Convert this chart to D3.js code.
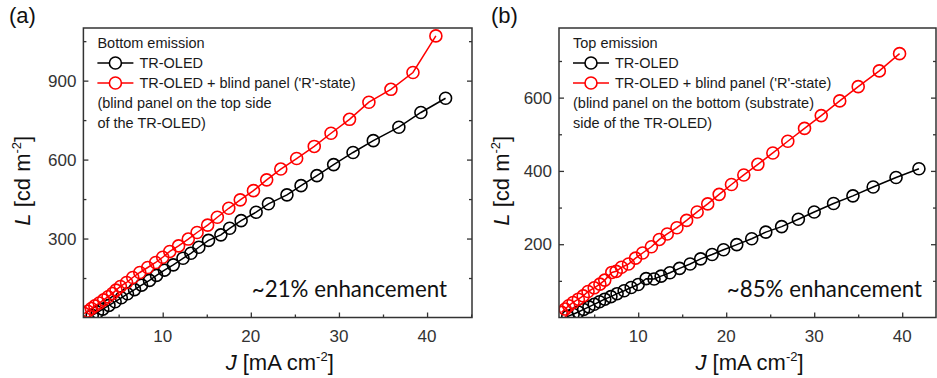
<!DOCTYPE html>
<html>
<head>
<meta charset="utf-8">
<script src="https://cdn.jsdelivr.net/npm/d3@7"></script>
<style>
  body { margin: 0; background: #fff; }
  svg { display: block; }
</style>
</head>
<body>
<div id="chart"></div>
<script>
"use strict";

// panel (a) bottom emission, [J, L]
const bottomRef = [
    [2.0, 8], [2.6, 20], [3.2, 32], [3.9, 46], [4.6, 60], [5.3, 75], [6.0, 90], [6.8, 106],
    [7.6, 123], [8.5, 141], [9.3, 160], [10.2, 180], [11.2, 200], [12.3, 225], [13.2, 244],
    [14.1, 267], [15.2, 293], [16.6, 314], [17.6, 339], [18.9, 368], [20.6, 400], [22.0, 432],
    [24.1, 466], [25.7, 501], [27.5, 539], [29.4, 581], [31.6, 627], [33.9, 672], [36.8, 723],
    [39.3, 779], [42.1, 833]
];
const bottomBlind = [
    [1.1, 15], [1.5, 24], [1.9, 34], [2.3, 44], [2.8, 55], [3.3, 67], [3.8, 79], [4.3, 91],
    [4.7, 104], [5.2, 118], [5.9, 133], [6.6, 152], [7.4, 171], [8.3, 190], [9.2, 209],
    [10.0, 229], [10.8, 251], [11.8, 272], [12.9, 298], [13.9, 323], [15.1, 351], [16.2, 381],
    [17.5, 415], [18.8, 447], [20.3, 482], [21.8, 523], [23.4, 564], [25.2, 604], [27.2, 650],
    [29.1, 700], [31.2, 753], [33.4, 818], [35.9, 867], [38.4, 931], [41.0, 1070]
];

// panel (b) top emission
const topRef = [
    [2.0, 3], [2.6, 9], [3.2, 15], [3.8, 22], [4.4, 29], [5.0, 36], [5.6, 43], [6.2, 50],
    [6.9, 57], [7.6, 65], [8.4, 73], [9.2, 82], [10.0, 90], [10.9, 106], [11.8, 105],
    [12.6, 113], [13.6, 122], [14.7, 134], [15.9, 146], [17.1, 160], [18.4, 172], [19.7, 185],
    [21.2, 199], [22.9, 215], [24.5, 233], [26.3, 248], [28.2, 268], [30.0, 288], [32.2, 311],
    [34.4, 332], [36.7, 356], [39.3, 382], [41.9, 406]
];
const topBlind = [
    [1.3, 14], [1.7, 23], [2.1, 32], [2.6, 41], [3.2, 50], [3.75, 59], [4.3, 71], [5.0, 81],
    [5.65, 91], [6.2, 102], [7.0, 123], [7.5, 126], [8.1, 137], [8.9, 146], [9.7, 162],
    [10.5, 176], [11.5, 193], [12.4, 213], [13.3, 228], [14.4, 245], [15.5, 265], [16.7, 288],
    [17.9, 310], [19.2, 336], [20.6, 363], [22.0, 389], [23.6, 418], [25.3, 449], [27.0, 481],
    [28.9, 516], [30.8, 551], [32.9, 591], [35.0, 630], [37.4, 673], [39.7, 720]
];

const xTicks = [10, 20, 30, 40];
const xMinor = [5, 15, 25, 35, 45];
const yTicksA = [300, 600, 900];
const yMinorA = [150, 450, 750, 1050];
const yTicksB = [200, 400, 600];
const yMinorB = [100, 300, 500, 700];

const legendA = ["Bottom emission", "TR-OLED", "TR-OLED + blind panel ('R'-state)",
    "(blind panel on the top side", "of the TR-OLED)"];
const legendB = ["Top emission", "TR-OLED", "TR-OLED + blind panel ('R'-state)",
    "(blind panel on the bottom (substrate)", "side of the TR-OLED)"];

const W = 937, H = 378;
const axisColor = "#333";

const svg = d3.select("#chart").append("svg")
    .attr("width", W)
    .attr("height", H)
    .attr("font-family", "Arial, 'Liberation Sans', sans-serif");

drawPanel({
    left: 83.4, right: 472, top: 28, bottom: 317.5,
    xDomain: [1, 45.1], yDomain: [0, 1100],
    yTicks: yTicksA, yMinor: yMinorA,
    ref: bottomRef, blind: bottomBlind,
    legend: legendA, letter: "(a)", letterX: 9,
    note: "~21% enhancement", noteX: 447,
    yLabelX: 30
});

drawPanel({
    left: 559, right: 936, top: 28, bottom: 317.5,
    xDomain: [1, 43.84], yDomain: [0, 790],
    yTicks: yTicksB, yMinor: yMinorB,
    ref: topRef, blind: topBlind,
    legend: legendB, letter: "(b)", letterX: 491,
    note: "~85% enhancement", noteX: 922,
    yLabelX: 509
});

function drawPanel(p) {
    let g = svg.append("g");

    let xScale = d3.scaleLinear().domain(p.xDomain).range([p.left, p.right]);
    let yScale = d3.scaleLinear().domain(p.yDomain).range([p.bottom, p.top]);

    // ticks (inward) bottom, left and right
    let xAxis = d3.axisTop(xScale).tickValues(xTicks).tickSize(5).tickFormat("");
    g.append("g").attr("transform", "translate(0," + p.bottom + ")").call(xAxis);
    let xAxisMinor = d3.axisTop(xScale).tickValues(xMinor.filter(v => v < p.xDomain[1])).tickSize(3).tickFormat("");
    g.append("g").attr("transform", "translate(0," + p.bottom + ")").call(xAxisMinor);

    let yAxis = d3.axisRight(yScale).tickValues(p.yTicks).tickSize(5).tickFormat("");
    g.append("g").attr("transform", "translate(" + p.left + ",0)").call(yAxis);
    let yAxisMinor = d3.axisRight(yScale).tickValues(p.yMinor).tickSize(3).tickFormat("");
    g.append("g").attr("transform", "translate(" + p.left + ",0)").call(yAxisMinor);

    let yAxisR = d3.axisLeft(yScale).tickValues(p.yTicks).tickSize(5).tickFormat("");
    g.append("g").attr("transform", "translate(" + p.right + ",0)").call(yAxisR);
    let yAxisRMinor = d3.axisLeft(yScale).tickValues(p.yMinor).tickSize(3).tickFormat("");
    g.append("g").attr("transform", "translate(" + p.right + ",0)").call(yAxisRMinor);

    g.selectAll(".domain").remove();
    g.selectAll(".tick line").attr("stroke", axisColor).attr("stroke-width", 1.3);

    // tick labels
    g.selectAll(".xlab")
        .data(xTicks)
        .enter()
        .append("text")
        .attr("x", d => xScale(d))
        .attr("y", p.bottom + 24)
        .attr("text-anchor", "middle")
        .attr("font-size", "17px")
        .attr("fill", axisColor)
        .text(d => d);

    g.selectAll(".ylab")
        .data(p.yTicks)
        .enter()
        .append("text")
        .attr("x", p.left - 7)
        .attr("y", d => yScale(d) + 6)
        .attr("text-anchor", "end")
        .attr("font-size", "17px")
        .attr("fill", axisColor)
        .text(d => d);

    // lines and markers
    let line = d3.line()
        .x(d => xScale(d[0]))
        .y(d => yScale(d[1]));

    let clip = "clip" + p.letter.replace(/\W/g, "");
    svg.append("clipPath").attr("id", clip)
        .append("rect")
        .attr("x", p.left).attr("y", p.top)
        .attr("width", p.right - p.left).attr("height", p.bottom - p.top);

    let plotArea = g.append("g").attr("clip-path", "url(#" + clip + ")");

    [[p.ref, "#000"], [p.blind, "#ff0000"]].forEach(function (s) {
        plotArea.append("path")
            .datum(s[0])
            .attr("fill", "none")
            .attr("stroke", s[1])
            .attr("stroke-width", 1.5)
            .attr("d", line);
        plotArea.selectAll(".dot")
            .data(s[0])
            .enter()
            .append("circle")
            .attr("cx", d => xScale(d[0]))
            .attr("cy", d => yScale(d[1]))
            .attr("r", 6)
            .attr("fill", "none")
            .attr("stroke", s[1])
            .attr("stroke-width", 1.6);
    });

    // frame
    g.append("rect")
        .attr("x", p.left).attr("y", p.top)
        .attr("width", p.right - p.left).attr("height", p.bottom - p.top)
        .attr("fill", "none")
        .attr("stroke", axisColor)
        .attr("stroke-width", 1.5);

    // legend
    let lx = p.left + 14;
    let ly = p.top + 15;
    g.selectAll(".leg")
        .data(p.legend)
        .enter()
        .append("text")
        .attr("x", (d, i) => (i == 1 || i == 2) ? lx + 42 : lx)
        .attr("y", (d, i) => ly + i * 20 + 5)
        .attr("font-size", "14.5px")
        .attr("fill", "#1a1a1a")
        .text(d => d);

    [["#000", 1], ["#ff0000", 2]].forEach(function (s) {
        let yy = ly + s[1] * 20;
        g.append("line")
            .attr("x1", lx).attr("x2", lx + 36)
            .attr("y1", yy).attr("y2", yy)
            .attr("stroke", s[0]).attr("stroke-width", 1.5);
        g.append("circle")
            .attr("cx", lx + 18).attr("cy", yy).attr("r", 6)
            .attr("fill", "#fff")
            .attr("stroke", s[0]).attr("stroke-width", 1.6);
    });

    // enhancement note
    g.append("text")
        .attr("x", p.noteX)
        .attr("y", p.bottom - 21)
        .attr("text-anchor", "end")
        .attr("font-family", "Lato, 'Open Sans', sans-serif")
        .attr("font-size", "22.3px")
        .attr("fill", "#111")
        .text(p.note);

    // panel letter
    g.append("text")
        .attr("x", p.letterX)
        .attr("y", 23)
        .attr("font-size", "22px")
        .attr("fill", "#111")
        .text(p.letter);

    // axis titles
    let xt = g.append("text")
        .attr("x", (p.left + p.right) / 2 + 2)
        .attr("y", 370)
        .attr("text-anchor", "middle")
        .attr("font-size", "22px")
        .attr("fill", "#111");
    xt.append("tspan").attr("font-style", "italic").text("J");
    xt.append("tspan").text(" [mA cm");
    xt.append("tspan").attr("font-size", "13px").attr("dy", -9).text("-2");
    xt.append("tspan").attr("dy", 9).text("]");

    let yt = g.append("text")
        .attr("transform", "translate(" + p.yLabelX + "," + ((p.top + p.bottom) / 2 + 8) + ") rotate(-90)")
        .attr("text-anchor", "middle")
        .attr("font-size", "22px")
        .attr("fill", "#111");
    yt.append("tspan").attr("font-style", "italic").text("L");
    yt.append("tspan").text(" [cd m");
    yt.append("tspan").attr("font-size", "13px").attr("dy", -9).text("-2");
    yt.append("tspan").attr("dy", 9).text("]");
}
</script>
</body>
</html>
